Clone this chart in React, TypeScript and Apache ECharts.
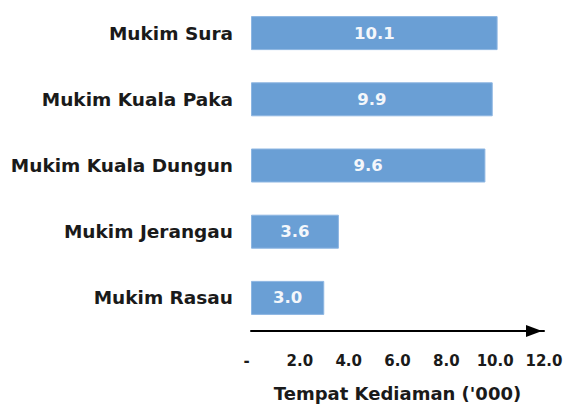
import React, { useEffect, useRef } from "react";
import * as echarts from "echarts";

const categories = [
  "Mukim Sura",
  "Mukim Kuala Paka",
  "Mukim Kuala Dungun",
  "Mukim Jerangau",
  "Mukim Rasau",
];
const values = [10.1, 9.9, 9.6, 3.6, 3.0];
const axisTitle = "Tempat Kediaman ('000)";

const FONT = "DejaVu Sans";

export default function App() {
  const ref = useRef<HTMLDivElement>(null);
  useEffect(() => {
    if (!ref.current) return;
    const chart = echarts.init(ref.current, undefined, { renderer: "svg" });
    chart.setOption({
      animation: false,
      backgroundColor: "#ffffff",
      grid: { left: 251, right: 22, top: -7, bottom: 75, containLabel: false },
      xAxis: {
        type: "value",
        min: 0,
        max: 12,
        interval: 2,
        name: axisTitle,
        nameLocation: "middle",
        nameGap: 53,
        nameTextStyle: { fontFamily: FONT, fontWeight: "bold", fontSize: 18, color: "#1a1a1a" },
        axisLine: {
          show: true,
          lineStyle: { color: "#000000", width: 2 },
          symbol: ["none", "triangle"],
          symbolSize: [12, 16],
          symbolOffset: [0, -10],
        },
        axisTick: { show: false },
        splitLine: { show: false },
        axisLabel: {
          fontFamily: FONT,
          fontWeight: "bold",
          fontSize: 15,
          color: "#1a1a1a",
          margin: 22,
          formatter: (v: number) => (v === 0 ? "{d|-}" : v.toFixed(1)),
          rich: {
            d: { fontFamily: FONT, fontWeight: "bold", fontSize: 15, color: "#1a1a1a", padding: [0, 9, 0, 0] },
          },
        },
      },
      yAxis: {
        type: "category",
        data: categories,
        inverse: true,
        axisLine: { show: false },
        axisTick: { show: false },
        splitLine: { show: false },
        axisLabel: {
          fontFamily: FONT,
          fontWeight: "bold",
          fontSize: 18.5,
          color: "#1a1a1a",
          margin: 18,
        },
      },
      series: [
        {
          type: "bar",
          data: values,
          barWidth: 34,
          itemStyle: { color: "#6a9fd5", borderColor: "#8db6e2", borderWidth: 1 },
          label: {
            show: true,
            position: "inside",
            fontFamily: FONT,
            fontWeight: "bold",
            fontSize: 16.5,
            color: "#f4f7fb",
            formatter: (p: any) => Number(p.value).toFixed(1),
          },
        },
      ],
    });
    return () => chart.dispose();
  }, []);
  return (
    <div
      ref={ref}
      style={{ position: "fixed", left: 0, top: 0, width: 566, height: 407 }}
    />
  );
}
